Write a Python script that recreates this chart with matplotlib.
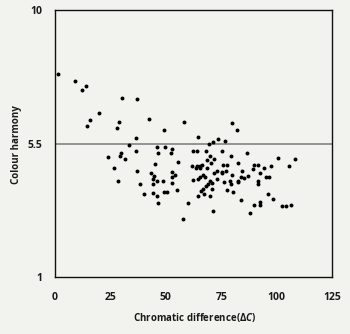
import matplotlib
matplotlib.use("Agg")
import matplotlib.pyplot as plt

plt.rcParams['font.family'] = ['Open Sans', 'DejaVu Sans']
plt.rcParams['mathtext.fontset'] = 'custom'
plt.rcParams['mathtext.rm'] = 'Open Sans:bold'
plt.rcParams['mathtext.it'] = 'Open Sans:bold:italic'
plt.rcParams['mathtext.bf'] = 'Open Sans:bold'

chromatic_diff = [
    1.2, 9.0, 12.3, 14.1, 30.4, 37.1, 20.0, 15.8, 14.6, 28.9, 27.8, 36.6, 42.3, 49.2,
    58.4, 64.4, 80.0, 82.3, 73.4, 76.9, 71.4, 69.6,
    33.4, 46.2, 49.8, 52.9, 62.1, 63.9, 68.0, 75.2, 86.5, 70.1, 71.9, 68.7, 79.6, 100.5,
    108.2, 55.7, 82.4, 70.3, 61.7, 64.2, 66.2, 65.3, 75.7, 77.5, 89.9, 91.7, 94.5, 97.3,
    105.6, 29.8, 36.4, 29.5, 23.8, 31.7, 46.5, 26.8, 37.1, 45.0, 43.2, 44.7, 44.4, 45.9,
    28.6, 38.5, 44.1, 40.2, 44.4, 46.2, 46.3, 52.3, 63.8, 65.4, 68.5, 75.4, 73.2, 77.3,
    75.2, 71.9, 52.7, 54.3, 52.7, 66.8, 65.4, 67.5, 48.9, 62.4, 64.7, 69.9, 73.2, 76.4,
    52.9, 69.2, 71.0, 68.1, 66.9, 70.8, 65.9, 49.2, 50.7, 55.1, 77.6, 64.4, 67.4, 69.9,
    59.9, 71.4, 57.9, 89.5, 84.4, 80.0, 92.4, 83.8, 87.0, 95.1, 96.7, 85.4, 79.0, 79.4,
    82.4, 82.7, 91.7, 91.5, 80.5, 96.0, 98.2, 84.1, 89.9, 92.4, 92.5, 88.0, 102.4, 104.2,
    106.6,
]
colour_harmony = [
    7.84, 7.60, 7.29, 7.45, 7.04, 7.00, 6.54, 6.28, 6.09, 6.24, 6.03, 5.69, 6.34, 5.95,
    6.24, 5.73, 6.18, 5.95, 5.64, 5.60, 5.54, 5.49,
    5.44, 5.38, 5.38, 5.30, 5.25, 5.25, 5.25, 5.25, 5.19, 5.09, 4.99, 4.93, 5.09, 5.02,
    4.99, 4.89, 4.83, 4.83, 4.74, 4.74, 4.76, 4.74, 4.79, 4.79, 4.79, 4.79, 4.69, 4.74,
    4.74, 5.19, 5.25, 5.09, 5.05, 4.99, 5.19, 4.69, 4.58, 4.80, 4.50, 4.41, 4.29, 4.24,
    4.24, 4.14, 4.14, 3.79, 3.84, 3.73, 3.48, 5.17, 4.69, 4.69, 4.66, 4.55, 4.58, 4.58,
    4.49, 4.49, 4.53, 4.44, 4.38, 4.44, 4.36, 4.36, 4.25, 4.27, 4.30, 4.24, 4.29, 4.19,
    4.18, 4.14, 4.18, 4.08, 3.96, 3.98, 3.91, 3.88, 3.88, 3.93, 3.93, 3.73, 3.79, 3.74,
    3.48, 3.24, 2.95, 4.63, 4.58, 4.44, 4.49, 4.38, 4.41, 4.38, 4.38, 4.33, 4.24, 4.15,
    4.25, 4.19, 4.24, 4.14, 3.88, 3.80, 3.63, 3.59, 3.44, 3.52, 3.42, 3.15, 3.38, 3.38,
    3.43,
]
x_ticks = [0, 25, 50, 75, 100, 125]
y_ticks = [1, 5.5, 10]
reference_level = 5.5

bg = '#f2f2ee'
fig = plt.figure(figsize=(3.5, 3.34), dpi=100, facecolor=bg)
ax = fig.add_axes([55/350, 1-277/334, (332-55)/350, (277-10)/334], facecolor=bg)

ax.axhline(reference_level, color='#8c8c8c', lw=1.3, zorder=1)
ax.scatter(chromatic_diff, colour_harmony, s=8, color='black', marker='o',
           linewidths=0, zorder=3)

ax.set_xlim(0, 125)
ax.set_ylim(1, 10)
ax.set_xticks(x_ticks)
ax.set_xticklabels([str(t) for t in x_ticks])
ax.set_yticks(y_ticks)
ax.set_yticklabels(['1', '5.5', '10'])
ax.tick_params(length=0, labelsize=7.5, pad=9)
ax.tick_params(axis='x', pad=11)
for lab in ax.get_xticklabels() + ax.get_yticklabels():
    lab.set_fontweight('bold')
    lab.set_color('#1a1a1a')
for sp in ax.spines.values():
    sp.set_color('#111111')
    sp.set_linewidth(1.0)

fig.text(195/350, 1-318/334, r'Chromatic difference($\Delta\mathit{C}$)', ha='center', va='center',
         fontsize=7, fontweight='bold', color='#1a1a1a')
fig.text(17/350, 1-145/334, 'Colour harmony', ha='center', va='center', rotation=90,
         fontsize=7, fontweight='bold', color='#1a1a1a')

fig.savefig('out.png', dpi=100, facecolor=bg)
